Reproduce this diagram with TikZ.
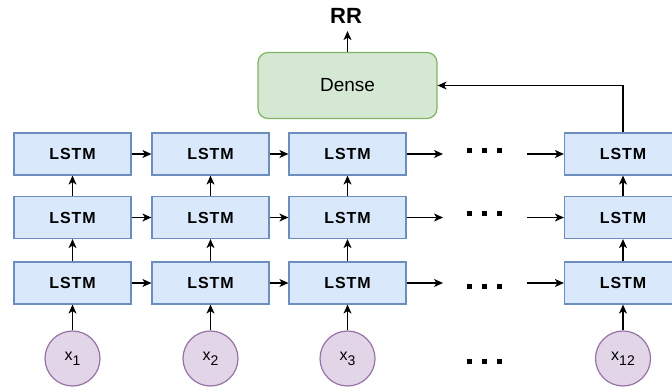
\documentclass[tikz,border=0pt]{standalone}
\usepackage{fontspec}
\setmainfont{Liberation Sans}
\usetikzlibrary{arrows.meta}

\definecolor{lstmfill}{HTML}{DAE8FC}
\definecolor{lstmdraw}{HTML}{6C8EBF}
\definecolor{densefill}{HTML}{D5E8D4}
\definecolor{densedraw}{HTML}{82B366}
\definecolor{infill}{HTML}{E1D5E7}
\definecolor{indraw}{HTML}{9673A6}

% index of an input, set lowered beside the "x"
\newcommand\xsub[1]{\raisebox{-5pt}{\fontsize{14}{14}\selectfont #1}}
% three square dots
\newcommand\sqdots{\rule{5pt}{5pt}\hspace{10pt}\rule{5pt}{5pt}\hspace{10pt}\rule{5pt}{5pt}}

\begin{document}
\begin{tikzpicture}[x=1pt,y=-1pt,
  lstm/.style={draw=lstmdraw, fill=lstmfill, line width=1.2pt,
    minimum width=117pt, minimum height=42pt, inner sep=0pt,
    font=\fontsize{16}{16}\selectfont\bfseries\addfontfeatures{LetterSpace=6}},
  dense/.style={draw=densedraw, fill=densefill, line width=1.2pt,
    rounded corners=10pt, minimum width=179pt, minimum height=66pt,
    inner sep=0pt, font=\fontsize{19}{19}\selectfont},
  xin/.style={circle, draw=indraw, fill=infill, line width=1.2pt,
    minimum size=55pt, inner sep=0pt, font=\fontsize{16}{16}\selectfont},
  link/.style={line width=1.2pt, -{Stealth[length=9pt,width=8pt,inset=2.5pt]}},
  dotrow/.style={inner sep=0pt},
]
\useasboundingbox (0,0) rectangle (672,387);
\clip (0,0) rectangle (672,387);

% stacked LSTM cells: column c, layer r (1 = top)
\foreach \c/\x in {1/72.5, 2/210.5, 3/347.5, 4/623}
  \foreach \r/\y in {1/154, 2/217.5, 3/283}
    \node[lstm] (l\c\r) at (\x,\y) {LSTM};

% inputs
\node[xin] (x1)  at (72.5,358.5)  {x\xsub{1}};
\node[xin] (x2)  at (210.5,358.5) {x\xsub{2}};
\node[xin] (x3)  at (347.5,358.5) {x\xsub{3}};
\node[xin] (x12) at (623,358.5)   {x\xsub{12}};

% ellipses for the omitted time steps
\node[dotrow] (d1) at (484.5,150.5) {\sqdots};
\node[dotrow] (d2) at (484.5,214)   {\sqdots};
\node[dotrow] (d3) at (484.5,286.7) {\sqdots};
\node[dotrow] (d4) at (484.5,361.7) {\sqdots};

% output layer
\node[dense] (dense) at (347.5,85.5) {Dense};
\node[inner xsep=0pt, inner ysep=7.5pt, font=\fontsize{22}{22}\selectfont\bfseries]
  (rr) at (346,15.8) {RR};

% free ends of the arrows around the ellipses
\foreach \r/\y in {1/154, 2/217.5, 3/283} {
  \coordinate (a\r) at (443,\y);
  \coordinate (b\r) at (527,\y);
}

% recurrent connections along each layer
\foreach \r in {1,2,3} {
  \draw[link] (l1\r.east) -- (l2\r.west);
  \draw[link] (l2\r.east) -- (l3\r.west);
  \draw[link] (l3\r.east) -- (a\r);
  \draw[link] (b\r) -- (l4\r.west);
}

% inputs and layer-to-layer connections
\draw[link] (x1.north)  -- (l13.south);
\draw[link] (x2.north)  -- (l23.south);
\draw[link] (x3.north)  -- (l33.south);
\draw[link] (x12.north) -- (l43.south);
\foreach \c in {1,2,3,4} {
  \draw[link] (l\c3.north) -- (l\c2.south);
  \draw[link] (l\c2.north) -- (l\c1.south);
}

% last hidden state to the dense layer, and its output
\draw[link] (l41.north) |- (dense.east);
\draw[link] (dense.north) -- (dense.north |- rr.south);
\end{tikzpicture}
\end{document}
